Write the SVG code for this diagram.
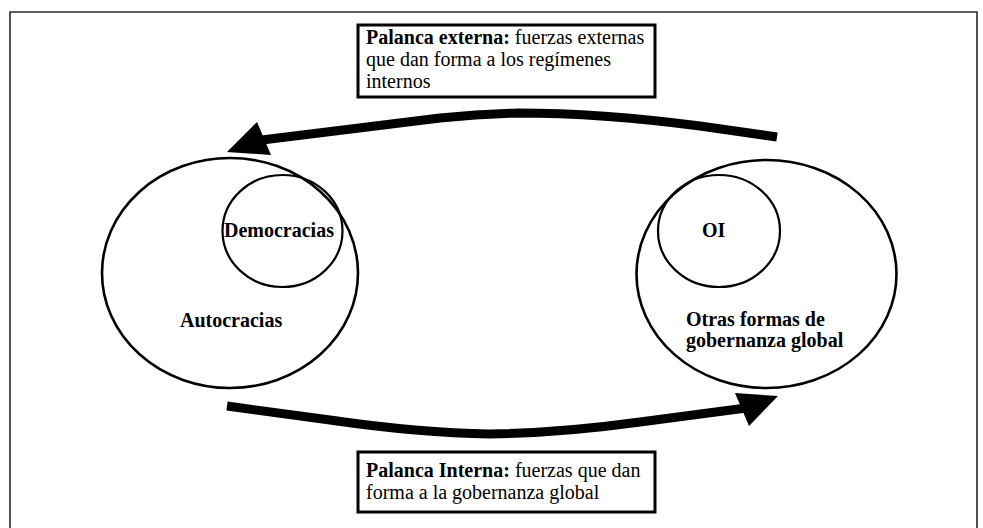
<svg xmlns="http://www.w3.org/2000/svg" width="983" height="528" viewBox="0 0 983 528">
<style>
.t{font-family:"Liberation Serif","Times New Roman",serif;font-size:20px;fill:#000}
.b{font-weight:bold}
.outer{fill:none;stroke:#000;stroke-width:2.6}
.inner{fill:none;stroke:#000;stroke-width:2.2}
.box{fill:#fff;stroke:#000;stroke-width:3}
.conn{fill:none;stroke:#000;stroke-width:9;stroke-linejoin:round}
.head{fill:#000}
</style>
<rect x="0" y="0" width="983" height="528" fill="#fff"/>
<path d="M10,530 V12 H977 V530" fill="none" stroke="#2a2a2a" stroke-width="1.6"/>
<g id="connectors">
<path class="conn" d="M777,137 L700,126 Q600,113 518,113 Q480,114 440,118 L262,140"/>
<polygon class="head" points="227,152 257,122 271,155"/>
<path class="conn" d="M227,406 L330,420 Q420,433 490,434 Q560,433 640,422 L746,408"/>
<polygon class="head" points="778,396 735,393 749,426"/>
</g>
<g id="autocracias">
<ellipse class="outer" cx="230" cy="273" rx="128" ry="115"/>
<text class="t b" x="180" y="327">Autocracias</text>
</g>
<g id="democracias">
<ellipse class="inner" cx="282.5" cy="231" rx="60" ry="56"/>
<text class="t b" x="224" y="237">Democracias</text>
</g>
<g id="otras-formas">
<ellipse class="outer" cx="766.5" cy="274" rx="130" ry="114"/>
<text class="t b" x="686" y="326">Otras formas de</text>
<text class="t b" x="686" y="347">gobernanza global</text>
</g>
<g id="oi">
<ellipse class="inner" cx="719" cy="231" rx="61" ry="56"/>
<text class="t b" x="702" y="237">OI</text>
</g>
<g id="palanca-externa">
<rect class="box" x="358" y="25" width="297" height="72"/>
<text class="t" x="366" y="44"><tspan class="b">Palanca externa:</tspan> fuerzas externas</text>
<text class="t" x="366" y="66">que dan forma a los regímenes</text>
<text class="t" x="366" y="88">internos</text>
</g>
<g id="palanca-interna">
<rect class="box" x="358" y="452" width="297" height="60"/>
<text class="t" x="366" y="477"><tspan class="b">Palanca Interna:</tspan> fuerzas que dan</text>
<text class="t" x="366" y="499">forma a la gobernanza global</text>
</g>
</svg>
